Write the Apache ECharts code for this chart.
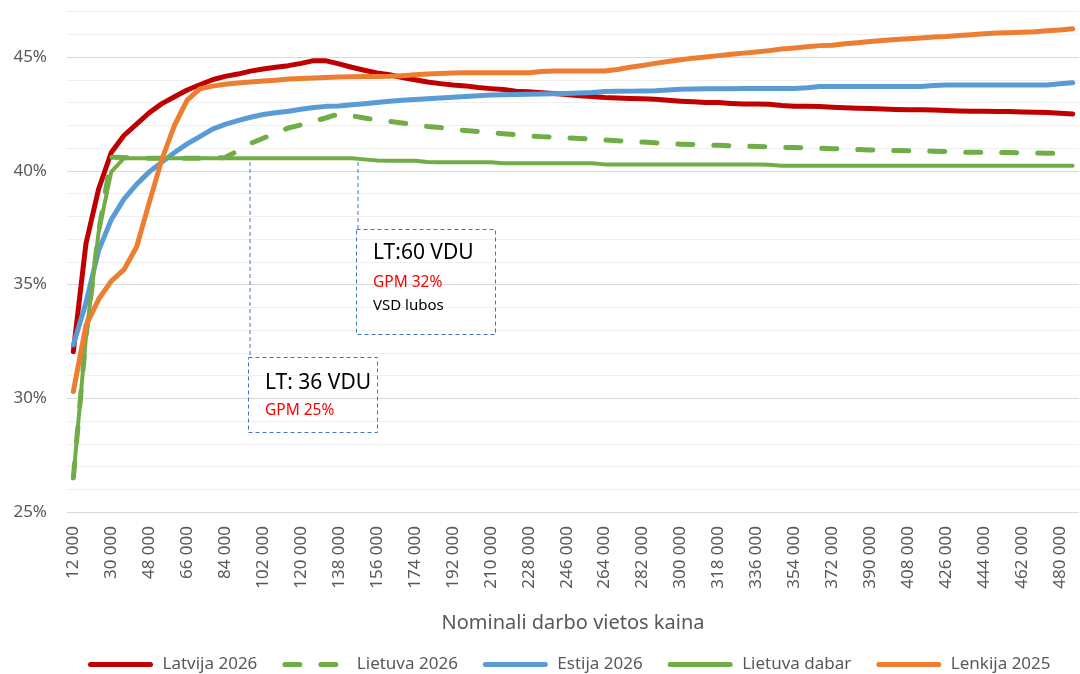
<!DOCTYPE html>
<html>
<head>
<meta charset="utf-8">
<script src="https://cdn.jsdelivr.net/npm/echarts@6/dist/echarts.min.js"></script>
<style>html,body{margin:0;padding:0;background:#fff}#c{width:1080px;height:674px}</style>
</head>
<body>
<div id="c"></div>
<script>
const categories = [12000,18000,24000,30000,36000,42000,48000,54000,60000,66000,
72000,78000,84000,90000,96000,102000,108000,114000,120000,126000,
132000,138000,144000,150000,156000,162000,168000,174000,180000,186000,
192000,198000,204000,210000,216000,222000,228000,234000,240000,246000,
252000,258000,264000,270000,276000,282000,288000,294000,300000,306000,
312000,318000,324000,330000,336000,342000,348000,354000,360000,366000,
372000,378000,384000,390000,396000,402000,408000,414000,420000,426000,
432000,438000,444000,450000,456000,462000,468000,474000,480000,486000];

const latvija2026 = [32.05,36.8,39.2,40.8,41.55,42.05,42.55,42.95,43.25,43.55,
43.78,44.0,44.15,44.25,44.38,44.47,44.55,44.62,44.72,44.84,
44.83,44.7,44.55,44.42,44.3,44.22,44.1,44.0,43.9,43.83,
43.77,43.73,43.66,43.61,43.57,43.5,43.47,43.43,43.4,43.35,
43.3,43.26,43.22,43.2,43.18,43.16,43.14,43.1,43.06,43.03,
43.0,43.0,42.96,42.93,42.93,42.92,42.87,42.84,42.83,42.82,
42.79,42.77,42.75,42.74,42.71,42.69,42.68,42.68,42.67,42.65,
42.63,42.62,42.61,42.6,42.6,42.58,42.57,42.56,42.53,42.49];

const lietuva2026 = [26.5,32.7,37.3,40.6,40.58,40.56,40.55,40.55,40.55,40.55,
40.55,40.55,40.58,40.88,41.2,41.43,41.65,41.88,42.02,42.17,
42.33,42.5,42.42,42.32,42.23,42.17,42.1,42.03,41.95,41.9,
41.83,41.77,41.72,41.68,41.63,41.58,41.53,41.5,41.48,41.45,
41.42,41.38,41.35,41.32,41.29,41.26,41.23,41.19,41.17,41.15,
41.13,41.12,41.1,41.08,41.07,41.05,41.03,41.02,41.0,40.99,
40.97,40.95,40.93,40.91,40.9,40.89,40.88,40.88,40.86,40.84,
40.82,40.81,40.81,40.8,40.8,40.79,40.78,40.77,40.77,40.76];

const estija2026 = [32.35,34.2,36.5,37.85,38.75,39.4,39.95,40.38,40.8,41.18,
41.5,41.83,42.04,42.2,42.35,42.47,42.55,42.62,42.7,42.78,
42.83,42.85,42.9,42.95,43.0,43.05,43.1,43.13,43.17,43.2,
43.23,43.26,43.3,43.33,43.34,43.35,43.36,43.37,43.38,43.4,
43.42,43.44,43.48,43.49,43.5,43.51,43.52,43.55,43.58,43.59,
43.6,43.6,43.6,43.61,43.61,43.62,43.62,43.62,43.65,43.7,
43.7,43.7,43.7,43.7,43.7,43.7,43.7,43.7,43.75,43.77,
43.77,43.77,43.77,43.77,43.77,43.77,43.77,43.77,43.82,43.87];

const lietuvaDabar = [26.5,32.7,37.3,39.95,40.55,40.55,40.55,40.55,40.55,40.55,
40.55,40.55,40.55,40.55,40.55,40.55,40.55,40.55,40.55,40.55,
40.55,40.55,40.55,40.5,40.45,40.44,40.44,40.44,40.38,40.37,
40.37,40.37,40.37,40.37,40.33,40.33,40.33,40.33,40.33,40.33,
40.33,40.33,40.28,40.28,40.28,40.28,40.28,40.28,40.28,40.28,
40.28,40.28,40.28,40.28,40.28,40.26,40.22,40.22,40.22,40.22,
40.22,40.22,40.22,40.22,40.22,40.22,40.22,40.22,40.22,40.22,
40.22,40.22,40.22,40.22,40.22,40.22,40.22,40.22,40.22,40.22];

const lenkija2025 = [30.3,33.2,34.35,35.15,35.65,36.65,38.6,40.5,42.0,43.1,
43.6,43.72,43.8,43.86,43.9,43.94,43.98,44.03,44.06,44.08,
44.1,44.12,44.13,44.14,44.14,44.15,44.18,44.22,44.25,44.28,
44.3,44.31,44.31,44.31,44.31,44.31,44.31,44.36,44.38,44.38,
44.38,44.38,44.38,44.45,44.55,44.63,44.72,44.8,44.88,44.95,
45.0,45.06,45.12,45.17,45.22,45.28,45.35,45.4,45.45,45.5,
45.52,45.58,45.63,45.68,45.73,45.77,45.8,45.84,45.88,45.9,
45.94,45.98,46.02,46.05,46.07,46.09,46.11,46.15,46.19,46.24];

const yTicks = [25, 30, 35, 40, 45];

const FONT = 'Noto Sans';
const GREY = '#595959';
const chart = echarts.init(document.getElementById('c'), null, {renderer: 'canvas'});

function fmtNum(v){ return String(v).replace(/\B(?=(\d{3})+(?!\d))/g, ' '); }

function lineSeries(name, data, color, width, dashed){
  return {
    name, type: 'line', data, showSymbol: false, symbol: 'none', smooth: false,
    lineStyle: {color, width, type: dashed ? [15, 21] : 'solid', cap: 'round', join: 'round'},
    itemStyle: {color},
    emphasis: {disabled: true}, animation: false
  };
}

const boxColor = '#4472C4';
const dash = [4, 3];

chart.setOption({
  backgroundColor: '#ffffff',
  animation: false,
  textStyle: {fontFamily: FONT},
  grid: {left: 67, right: 1, top: 11.5, bottom: 162, containLabel: false},
  xAxis: {
    type: 'category', data: categories, boundaryGap: true,
    axisLine: {show: false}, axisTick: {show: false},
    axisLabel: {interval: 2, rotate: 90, margin: 14, fontSize: 17, color: GREY, fontFamily: FONT,
      formatter: v => fmtNum(v)},
    name: 'Nominali darbo vietos kaina', nameLocation: 'middle', nameGap: 101,
    nameTextStyle: {fontSize: 20, color: GREY, fontFamily: FONT},
    splitLine: {show: false}
  },
  yAxis: {
    type: 'value', min: 25, max: 47, interval: 1,
    axisLine: {show: false}, axisTick: {show: false},
    axisLabel: {margin: 20, fontSize: 17, color: GREY, fontFamily: FONT,
      formatter: v => yTicks.indexOf(Math.round(v)) >= 0 ? Math.round(v) + '%' : ''},
    splitLine: {show: true, lineStyle: {color: ['#d9d9d9','#efefef','#efefef','#efefef','#efefef'], width: 1}}
  },
  legend: {
    left: 88, top: 656, itemWidth: 60, itemHeight: 14, itemGap: 25, padding: 0,
    itemStyle: {opacity: 0, borderWidth: 0},
    lineStyle: {width: 5},
    textStyle: {fontSize: 17, color: GREY, fontFamily: FONT, padding: [0, 0, 0, 7]},
    data: ['Latvija 2026', 'Lietuva 2026', 'Estija 2026', 'Lietuva dabar', 'Lenkija 2025']
  },
  series: [
    lineSeries('Latvija 2026', latvija2026, '#C00000', 5, false),
    lineSeries('Lietuva 2026', lietuva2026, '#70AD47', 5, true),
    lineSeries('Estija 2026', estija2026, '#5B9BD5', 5, false),
    lineSeries('Lietuva dabar', lietuvaDabar, '#70AD47', 4, false),
    lineSeries('Lenkija 2025', lenkija2025, '#ED7D31', 5, false)
  ],
  graphic: [
    {type: 'line', shape: {x1: 250, y1: 162, x2: 250, y2: 357}, style: {stroke: boxColor, lineWidth: 1, lineDash: dash}, z: 10},
    {type: 'rect', shape: {x: 248.5, y: 357.5, width: 129, height: 75}, style: {fill: 'none', stroke: boxColor, lineWidth: 1, lineDash: dash}, z: 10},
    {type: 'text', x: 265, y: 383, style: {text: 'LT: 36 VDU', fontSize: 21, fontFamily: FONT, fill: '#000000', verticalAlign: 'middle'}, z: 11},
    {type: 'text', x: 265, y: 411, style: {text: 'GPM 25%', fontSize: 15.5, fontFamily: FONT, fill: '#FF0000', verticalAlign: 'middle'}, z: 11},
    {type: 'line', shape: {x1: 358, y1: 162, x2: 358, y2: 229}, style: {stroke: boxColor, lineWidth: 1, lineDash: dash}, z: 10},
    {type: 'rect', shape: {x: 356.5, y: 229.5, width: 139, height: 105}, style: {fill: 'none', stroke: boxColor, lineWidth: 1, lineDash: dash}, z: 10},
    {type: 'text', x: 373, y: 253, style: {text: 'LT:60 VDU', fontSize: 21, fontFamily: FONT, fill: '#000000', verticalAlign: 'middle'}, z: 11},
    {type: 'text', x: 373, y: 283, style: {text: 'GPM 32%', fontSize: 15.5, fontFamily: FONT, fill: '#FF0000', verticalAlign: 'middle'}, z: 11},
    {type: 'text', x: 373, y: 306, style: {text: 'VSD lubos', fontSize: 15, fontFamily: FONT, fill: '#000000', verticalAlign: 'middle'}, z: 11}
  ]
});
</script>
</body>
</html>
